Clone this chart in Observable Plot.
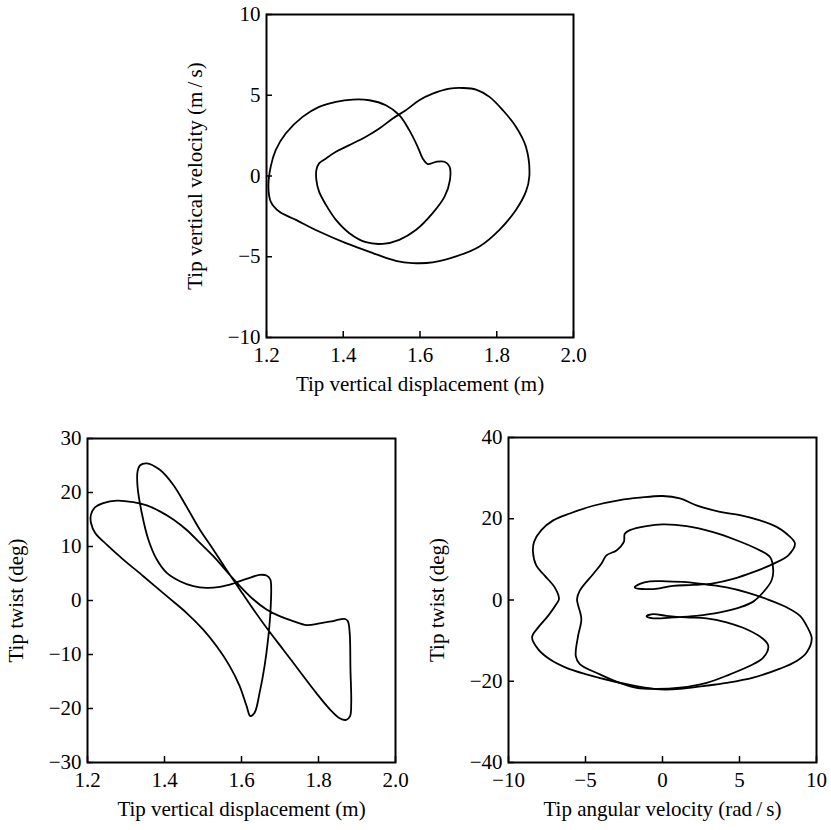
<!DOCTYPE html>
<html>
<head>
<meta charset="utf-8">
<script src="https://cdn.jsdelivr.net/npm/d3@7"></script>
<script src="https://cdn.jsdelivr.net/npm/@observablehq/plot@0.6"></script>
<style>
  html, body { margin: 0; padding: 0; background: #fff; }
  #wrap { position: relative; width: 831px; height: 830px; background: #fff; }
  .panel { position: absolute; }
</style>
</head>
<body>
<div id="wrap">
  <div class="panel" id="top" style="left:170px; top:0px;"></div>
  <div class="panel" id="bl" style="left:0px; top:420px;"></div>
  <div class="panel" id="br" style="left:420px; top:420px;"></div>
</div>
<script>
// ---------- Data ----------
// Top: tip vertical displacement (m) vs tip vertical velocity (m/s)
const velocityOrbit = [
  [1.885,0],[1.876,1.81],[1.85,3.05],[1.816,4.07],[1.781,4.9],[1.746,5.35],[1.711,5.45],[1.677,5.41],
  [1.633,5.1],[1.598,4.69],[1.563,4.07],[1.529,3.56],[1.494,2.94],[1.459,2.43],[1.416,1.91],[1.381,1.5],
  [1.355,1.09],[1.337,0.78],[1.33,0.37],[1.33,-0.25],[1.337,-0.97],[1.355,-1.79],[1.381,-2.72],[1.416,-3.54],
  [1.459,-4.1],[1.503,-4.2],[1.546,-3.95],[1.59,-3.33],[1.633,-2.3],[1.664,-1.28],[1.678,-0.25],[1.677,0.58],
  [1.664,0.88],[1.642,0.88],[1.62,0.74],[1.607,1.09],[1.594,1.81],[1.572,2.84],[1.546,3.77],[1.511,4.38],
  [1.468,4.69],[1.424,4.73],[1.381,4.59],[1.337,4.28],[1.294,3.66],[1.25,2.63],[1.224,1.6],[1.211,0.58],
  [1.205,-0.66],[1.211,-1.58],[1.233,-2.2],[1.277,-2.72],[1.337,-3.44],[1.407,-4.16],[1.477,-4.77],[1.537,-5.25],
  [1.581,-5.39],[1.633,-5.35],[1.694,-4.98],[1.755,-4.36],[1.807,-3.33],[1.85,-2.1],[1.876,-0.97]
];
// Bottom left: tip vertical displacement (m) vs tip twist (deg)
const twistOrbit = [
  [1.354,25.4],[1.388,24.2],[1.423,21.4],[1.457,17.4],[1.492,13.1],[1.527,9.4],[1.561,5.7],[1.596,2.0],
  [1.631,-1.66],[1.665,-5.05],[1.708,-9.06],[1.751,-13.1],[1.794,-17.1],[1.829,-20.1],[1.855,-21.8],[1.872,-22.1],
  [1.882,-21.4],[1.885,-18.9],[1.883,-12.8],[1.881,-6.0],[1.876,-3.8],[1.868,-3.4],[1.838,-3.8],[1.803,-4.25],
  [1.769,-4.56],[1.734,-3.82],[1.699,-2.9],[1.665,-1.66],[1.631,0.18],[1.596,2.65],[1.561,5.42],[1.527,8.2],
  [1.492,10.66],[1.457,13.1],[1.423,15.0],[1.388,16.5],[1.354,17.6],[1.319,18.2],[1.276,18.5],[1.241,18.05],
  [1.22,17.3],[1.209,15.9],[1.209,14.4],[1.22,12.5],[1.25,10.35],[1.293,7.58],[1.345,4.5],[1.406,0.8],
  [1.457,-2.28],[1.5,-5.36],[1.535,-8.44],[1.569,-12.1],[1.595,-15.8],[1.613,-19.5],[1.623,-21.4],[1.634,-20.8],
  [1.647,-17.1],[1.66,-12.1],[1.669,-7.2],[1.675,-2.28],[1.677,2.65],[1.675,3.88],[1.665,4.62],[1.647,4.74],
  [1.613,4.0],[1.578,3.14],[1.544,2.53],[1.509,2.34],[1.475,2.65],[1.44,3.57],[1.406,5.11],[1.38,7.58],
  [1.358,11.3],[1.341,16.2],[1.33,21.1],[1.33,23.9],[1.336,25.0]
];
// Bottom right: tip angular velocity (rad/s) vs tip twist (deg), outer and inner loops
const angularOuter = [
  [0,25.6],[1.13,25.0],[2.2,23.3],[3.73,21.7],[5.03,20.9],[6.33,19.6],[7.41,18.0],[8.06,16.3],[8.6,13.9],
  [8.17,11.0],[7.19,8.9],[5.89,6.85],[4.59,5.2],[3.29,4.1],[1.99,3.7],[0.69,3.5],[-0.61,2.7],[-1.8,3.1],
  [-1.47,3.96],[-0.82,4.6],[0.26,4.6],[1.56,4.4],[2.86,3.8],[4.16,3.1],[5.46,1.9],[6.76,0.25],[8.06,-1.8],
  [8.93,-3.9],[9.36,-6.35],[9.69,-9.5],[9.36,-12.9],[8.71,-15.0],[7.63,-16.9],[5.89,-19.1],[4.16,-20.4],
  [2.64,-21.2],[1.13,-21.9],[-0.17,-22.0],[-1.69,-21.2],[-3.21,-20.0],[-4.94,-18.3],[-6.24,-16.7],[-7.32,-14.6],
  [-8.08,-12.1],[-8.47,-9.2],[-8.08,-6.8],[-7.43,-3.9],[-6.89,-1.0],[-6.72,0.25],[-7.0,3.1],[-7.65,6.0],
  [-8.2,8.5],[-8.41,11.8],[-8.34,14.3],[-7.87,17.2],[-7.1,19.6],[-6.02,21.3],[-4.5,23.2],[-2.77,24.6],[-1.47,25.2]
];
const angularInner = [
  [0,18.6],[-1.04,18.2],[-2.12,17.2],[-2.45,16.3],[-2.51,14.3],[-2.99,12.2],[-3.64,11.0],[-3.97,8.9],
  [-4.5,6.4],[-5.37,2.3],[-5.55,0.25],[-5.27,-4.7],[-5.48,-8.8],[-5.63,-13.8],[-5.37,-15.8],[-4.07,-18.3],
  [-2.77,-20.4],[-1.69,-21.6],[-0.61,-21.9],[1.13,-21.6],[2.86,-20.4],[4.38,-18.3],[5.68,-16.2],[6.54,-14.2],
  [6.87,-11.3],[6.54,-9.6],[5.46,-7.2],[4.16,-5.5],[2.86,-4.5],[1.56,-4.3],[0.26,-3.9],[-0.61,-3.5],
  [-1.04,-4.0],[-0.61,-4.5],[0.69,-4.3],[2.2,-3.9],[3.73,-3.05],[5.03,-1.8],[5.89,-0.4],[6.54,1.9],
  [7.08,4.8],[7.19,7.3],[6.98,10.6],[6.11,12.6],[4.81,14.7],[3.29,16.7],[1.56,18.2]
];

// Axis ticks and labels
const dispTicks = [1.2, 1.4, 1.6, 1.8, 2.0];
const velTicks = [-10, -5, 0, 5, 10];
const twistTicksL = [-30, -20, -10, 0, 10, 20, 30];
const angTicks = [-10, -5, 0, 5, 10];
const twistTicksR = [-40, -20, 0, 20, 40];
const labelDisp = "Tip vertical displacement (m)";
const labelVel = "Tip vertical velocity (m\u2009/\u2009s)";
const labelTwist = "Tip twist (deg)";
const labelAng = "Tip angular velocity (rad\u2009/\u2009s)";

// ---------- Drawing ----------
const FONT = "Liberation Serif, Times New Roman, serif";
const FS = 21;

function panel(opts) {
  const {loops, xDomain, yDomain, xTicks, yTicks, xFormat, xLabel, yLabel,
         width, height, mL, mR, mT, mB, curve} = opts;
  const rows = loops.flatMap((loop, k) => loop.map(([x, y]) => ({x, y, k})));
  return Plot.plot({
    width, height,
    marginLeft: mL, marginRight: mR, marginTop: mT, marginBottom: mB,
    x: {domain: xDomain},
    y: {domain: yDomain},
    style: {fontFamily: FONT, fontSize: FS + "px", color: "#000", background: "#fff", overflow: "visible"},
    marks: [
      Plot.line(rows, {x: "x", y: "y", z: "k", curve: curve || "catmull-rom-closed",
        stroke: "#000", strokeWidth: 1.8, strokeLinejoin: "round"}),
      // inward ticks
      Plot.axisX(xTicks, {tickSize: 6, dy: -6, fill: "none", stroke: "#000", strokeWidth: 1.5, label: null}),
      Plot.axisY(yTicks, {tickSize: 6, dx: 6, fill: "none", stroke: "#000", strokeWidth: 1.5, label: null}),
      // tick labels
      Plot.axisX(xTicks, {tickSize: 0, tickPadding: 10, tickFormat: xFormat, fontSize: FS, fill: "#000", label: null}),
      Plot.axisY(yTicks, {tickSize: 0, tickPadding: 6, fontSize: FS, fill: "#000", label: null}),
      Plot.frame({stroke: "#000", strokeWidth: 2}),
      // axis titles
      Plot.text([xLabel], {text: d => d, frameAnchor: "bottom", dy: 47, lineAnchor: "middle",
        textAnchor: "middle", fontSize: FS, fill: "#000"}),
      Plot.text([yLabel], {text: d => d, frameAnchor: "left", dx: -71, rotate: -90, lineAnchor: "middle",
        textAnchor: "middle", fontSize: FS, fill: "#000"})
    ]
  });
}

const fmt1 = d3.format(".1f");
const fmtInt = d => (d < 0 ? "\u2212" : "") + Math.abs(d);

document.getElementById("top").append(panel({
  loops: [velocityOrbit], xDomain: [1.2, 2.0], yDomain: [-10, 10],
  xTicks: dispTicks, yTicks: velTicks, xFormat: fmt1, xLabel: labelDisp, yLabel: labelVel,
  width: 423, height: 397, mL: 96, mR: 20, mT: 14, mB: 60
}));
document.getElementById("bl").append(panel({
  loops: [twistOrbit], xDomain: [1.2, 2.0], yDomain: [-30, 30],
  xTicks: dispTicks, yTicks: twistTicksL, xFormat: fmt1, xLabel: labelDisp, yLabel: labelTwist,
  width: 415, height: 404, mL: 87, mR: 20, mT: 18, mB: 62
}));
document.getElementById("br").append(panel({
  loops: [angularOuter, angularInner], xDomain: [-10, 10], yDomain: [-40, 40],
  xTicks: angTicks, yTicks: twistTicksR, xFormat: fmtInt, xLabel: labelAng, yLabel: labelTwist,
  width: 406, height: 404, mL: 88, mR: 10, mT: 17, mB: 62
}));
</script>
</body>
</html>
